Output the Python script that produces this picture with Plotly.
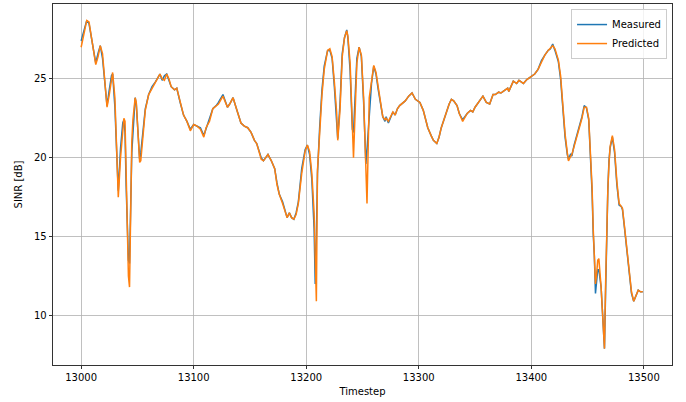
import plotly.graph_objects as go

# Timesteps (x) and the two series
timestep = [
    13000, 13002, 13004, 13005, 13007, 13010, 13011, 13013, 13015, 13017,
    13019, 13021, 13023, 13025, 13027, 13028, 13030, 13032, 13033, 13035,
    13037, 13038, 13039, 13040, 13041, 13042, 13043, 13044, 13045, 13046,
    13048, 13049, 13050, 13052, 13053, 13055, 13057, 13060, 13063, 13066,
    13068, 13070, 13072, 13074, 13076, 13078, 13080, 13083, 13085, 13088,
    13091, 13094, 13097, 13100, 13103, 13106, 13109, 13111, 13114, 13117,
    13120, 13122, 13126, 13128, 13130, 13132, 13135, 13138, 13142, 13145,
    13148, 13151, 13154, 13156, 13160, 13162, 13164, 13166, 13169, 13172,
    13174, 13176, 13179, 13181, 13183, 13185, 13187, 13189, 13191, 13193,
    13196, 13199, 13201, 13203, 13205, 13207, 13208, 13209, 13210, 13212,
    13214, 13216, 13219, 13221, 13223, 13225, 13227, 13228, 13230, 13232,
    13234, 13236, 13237, 13239, 13240, 13241, 13242, 13244, 13245, 13247,
    13249, 13251, 13252, 13253, 13254, 13256, 13258, 13260, 13262, 13264,
    13266, 13268, 13270, 13271, 13273, 13275, 13277, 13279, 13281, 13283,
    13286, 13288, 13291, 13294, 13297, 13299, 13301, 13304, 13306, 13308,
    13311, 13313, 13316, 13318, 13320, 13323, 13325, 13327, 13329, 13331,
    13334, 13336, 13339, 13341, 13343, 13346, 13348, 13350, 13352, 13354,
    13357, 13360, 13363, 13366, 13368, 13371, 13373, 13375, 13377, 13379,
    13380, 13382, 13384, 13387, 13389, 13391, 13393, 13396, 13399, 13401,
    13403, 13406, 13409, 13412, 13415, 13417, 13419, 13421, 13423, 13424,
    13426, 13428, 13430, 13432, 13433, 13435, 13436, 13438, 13440, 13442,
    13445, 13447, 13449, 13451, 13452, 13453, 13454, 13455, 13456, 13457,
    13458, 13459, 13460, 13461, 13462, 13463, 13464, 13465, 13466, 13467,
    13468, 13469, 13470, 13472, 13474, 13476, 13478, 13480, 13481, 13483,
    13486, 13489, 13491, 13493, 13495, 13497, 13499,
]

measured = [
    27.4, 28.0, 28.6, 28.7, 28.5, 27.2, 26.6, 26.0, 26.6, 27.1,
    26.3, 24.6, 23.3, 24.3, 25.2, 25.3, 23.2, 19.6, 17.9, 20.6,
    22.2, 22.4, 21.6, 18.2, 15.5, 13.5, 13.3, 17.0, 20.3, 21.5,
    23.8, 23.4, 22.0, 19.9, 20.3, 21.8, 23.1, 24.0, 24.5, 24.8,
    25.1, 25.3, 24.9, 25.2, 25.3, 24.9, 24.5, 24.3, 24.4, 23.5,
    22.7, 22.3, 21.8, 22.1, 22.0, 21.9, 21.4, 21.8, 22.4, 23.1,
    23.3, 23.5, 24.0, 23.6, 23.2, 23.4, 23.8, 23.1, 22.2, 22.0,
    21.9, 21.6, 21.1, 20.9, 20.0, 19.8, 20.0, 20.2, 19.8, 19.3,
    18.4, 17.7, 17.2, 16.6, 16.2, 16.5, 16.2, 16.1, 16.5, 17.2,
    19.3, 20.5, 20.8, 20.2, 18.6, 15.5, 12.0, 15.0, 19.0, 22.0,
    24.3, 25.8, 26.8, 26.8, 26.3, 24.5, 22.4, 21.2, 23.4, 26.6,
    27.6, 28.1, 27.6, 25.5, 23.6, 21.8, 21.6, 24.5, 26.3, 27.0,
    26.4, 23.5, 21.5, 19.6, 20.5, 22.4, 24.7, 25.8, 25.3, 24.3,
    23.5, 22.6, 22.3, 22.6, 22.2, 22.5, 22.9, 22.7, 23.1, 23.3,
    23.5, 23.6, 23.9, 24.1, 23.7, 23.6, 23.5, 23.0, 22.5, 21.9,
    21.4, 21.1, 20.9, 21.3, 21.9, 22.6, 23.0, 23.4, 23.7, 23.6,
    23.3, 22.8, 22.4, 22.6, 22.8, 23.0, 22.9, 23.2, 23.4, 23.6,
    23.9, 23.5, 23.4, 24.0, 24.0, 24.15, 24.1, 24.2, 24.3, 24.4,
    24.2, 24.5, 24.85, 24.7, 24.9, 24.8, 24.7, 24.95, 25.1, 25.2,
    25.3, 25.6, 26.15, 26.5, 26.8, 26.9, 27.2, 26.8, 26.3, 26.1,
    25.0, 23.0, 21.3, 20.2, 19.9, 20.25, 20.1, 20.8, 21.3, 21.7,
    22.6, 23.3, 23.15, 22.4, 21.0, 19.5, 17.8, 15.2, 13.8, 11.4,
    12.3, 12.9, 12.9, 12.4, 11.8, 10.5, 8.8, 7.9, 11.5, 15.5,
    18.0, 19.8, 20.6, 21.3, 20.3, 18.3, 17.0, 16.9, 16.7, 15.4,
    13.3, 11.4, 10.9, 11.3, 11.6, 11.5, 11.5,
]

predicted = [
    27.0, 27.7, 28.4, 28.7, 28.6, 27.3, 26.8, 25.9, 26.4, 27.1,
    26.6, 24.9, 23.2, 24.0, 25.0, 25.4, 23.8, 20.2, 17.5, 20.0,
    21.8, 22.5, 22.3, 19.6, 16.0, 12.5, 11.8, 16.0, 21.0, 22.4,
    23.8, 23.5, 22.3, 19.7, 19.8, 21.5, 23.0, 24.0, 24.4, 24.8,
    25.0, 25.3, 25.0, 24.9, 25.3, 25.0, 24.5, 24.3, 24.4, 23.5,
    22.7, 22.3, 21.7, 22.1, 22.0, 21.8, 21.3, 21.9, 22.3, 23.1,
    23.3, 23.4, 23.9, 23.5, 23.2, 23.4, 23.8, 23.1, 22.2, 22.0,
    21.9, 21.6, 21.1, 20.9, 19.9, 19.8, 20.0, 20.2, 19.8, 19.3,
    18.3, 17.7, 17.1, 16.6, 16.2, 16.5, 16.2, 16.1, 16.4, 17.1,
    19.0, 20.4, 20.8, 20.4, 19.0, 16.5, 13.5, 10.9, 19.2, 21.9,
    24.0, 25.6, 26.8, 26.9, 26.4, 24.8, 22.9, 21.1, 23.0, 26.4,
    27.6, 28.05, 27.7, 26.0, 23.8, 22.0, 20.0, 24.0, 26.0, 27.0,
    26.5, 23.8, 21.8, 19.5, 17.1, 23.8, 24.7, 25.85, 25.4, 24.4,
    23.6, 22.6, 22.4, 22.5, 22.3, 22.6, 22.9, 22.7, 23.1, 23.3,
    23.5, 23.6, 23.9, 24.1, 23.7, 23.6, 23.5, 23.0, 22.5, 21.9,
    21.4, 21.1, 20.9, 21.3, 21.9, 22.6, 23.0, 23.4, 23.7, 23.6,
    23.3, 22.8, 22.3, 22.6, 22.8, 23.0, 22.9, 23.2, 23.4, 23.6,
    23.9, 23.5, 23.4, 24.0, 24.0, 24.15, 24.1, 24.2, 24.3, 24.4,
    24.2, 24.5, 24.85, 24.7, 24.9, 24.8, 24.7, 24.95, 25.1, 25.2,
    25.3, 25.6, 26.1, 26.5, 26.8, 26.95, 27.1, 26.9, 26.4, 26.2,
    25.2, 23.3, 21.5, 20.3, 19.8, 20.1, 20.2, 20.7, 21.2, 21.7,
    22.5, 23.2, 23.2, 22.5, 21.3, 19.8, 18.1, 15.5, 14.0, 12.0,
    12.6, 13.5, 13.6, 12.8, 11.8, 10.5, 8.8, 7.9, 12.0, 16.0,
    18.0, 19.6, 20.7, 21.4, 20.5, 18.5, 17.1, 16.9, 16.8, 15.5,
    13.4, 11.5, 10.9, 11.3, 11.6, 11.5, 11.5,
]

series_names = ["Measured", "Predicted"]
series_colors = ["#1f77b4", "#ff7f0e"]
x_ticks = [13000, 13100, 13200, 13300, 13400, 13500]
y_ticks = [10, 15, 20, 25]

fig = go.Figure()
for name, vals, col in zip(series_names, [measured, predicted], series_colors):
    fig.add_trace(go.Scatter(x=timestep, y=vals, mode="lines", name=name,
                             line=dict(color=col, width=1.5)))

# matplotlib-like 5% margins
xlo, xhi = 13000, 13500
xpad = 0.05 * (xhi - xlo)
allv = measured + predicted
ylo, yhi = min(allv), max(allv)
ypad = 0.05 * (yhi - ylo)

font = dict(family="DejaVu Sans", size=10, color="#000000")
axis_common = dict(showgrid=True, gridcolor="#b0b0b0", gridwidth=0.8,
                   showline=True, mirror=True, linecolor="#000000", linewidth=0.8,
                   ticks="outside", ticklen=3.5, tickwidth=0.8, tickcolor="#000000",
                   zeroline=False, tickfont=font, automargin=False)

fig.update_layout(
    width=686, height=402,
    margin=dict(l=53, r=14, t=4, b=37),
    paper_bgcolor="white", plot_bgcolor="white",
    font=font,
    xaxis=dict(range=[xlo - xpad, xhi + xpad], tickvals=x_ticks,
               ticktext=[str(v) for v in x_ticks],
               title=dict(text="Timestep", font=font, standoff=5), **axis_common),
    yaxis=dict(range=[ylo - ypad, yhi + ypad], tickvals=y_ticks,
               ticktext=[str(v) for v in y_ticks],
               title=dict(text="SINR [dB]", font=font, standoff=9), **axis_common),
    legend=dict(x=0.992, y=0.986, xanchor="right", yanchor="top",
                bgcolor="rgba(255,255,255,0.8)", bordercolor="#cccccc", borderwidth=1,
                font=font, itemwidth=30, tracegroupgap=0),
    showlegend=True,
)

fig.write_html("out.html",
               config={"displayModeBar": False, "staticPlot": True},
               post_script="document.body.style.margin='0';document.body.style.overflow='hidden';")
